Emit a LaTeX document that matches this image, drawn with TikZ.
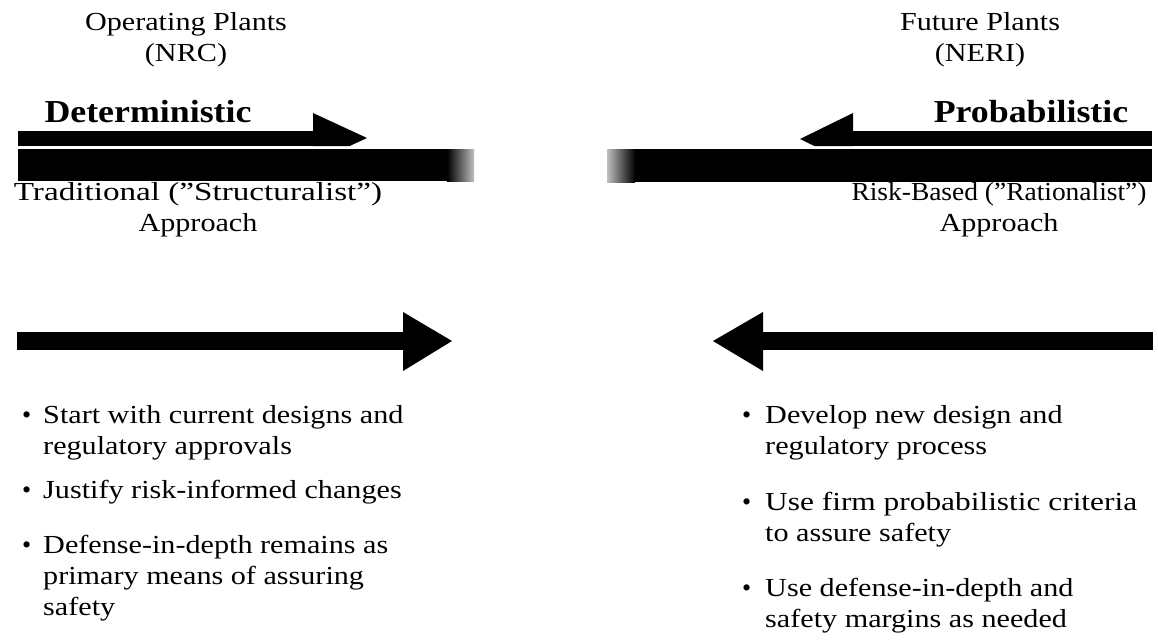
\documentclass[tikz,border=0pt]{standalone}
\usepackage{graphicx}
\usepackage{fontspec}
\setmainfont{Liberation Serif}
\newcommand\cstack[1]{\vtop{\halign{\hfil##\hfil\cr#1\crcr}}}
\newcommand\lstack[1]{\vtop{\halign{##\hfil\cr#1\crcr}}}
\begin{document}
\begin{tikzpicture}[x=1pt,y=-1pt,
  txt/.style={inner sep=0pt, font=\fontsize{26}{31}\selectfont, xscale=1.16},
  bld/.style={inner sep=0pt, font=\fontsize{32}{36}\selectfont\bfseries, xscale=1.12},
  bul/.style={inner sep=0pt, font=\fontsize{26}{31}\selectfont}]
\useasboundingbox[fill=white] (0,0) rectangle (1158,643);
% headings
\node[txt,anchor=base] (opl) at (186,30) {\cstack{Operating Plants\cr (NRC)}};
\node[txt,anchor=base] (fpl) at (980,30) {\cstack{Future Plants\cr (NERI)}};
\node[bld,anchor=base] (det) at (148,122) {Deterministic};
\node[bld,anchor=base] (prob) at (1031,122) {Probabilistic};
\node[txt,anchor=base] (trad) at (198,200) {\cstack{\scalebox{1.1}[1]{Traditional (”Structuralist”)}\cr Approach}};
\node[txt,anchor=base] (risk) at (999,200) {\cstack{\scalebox{0.91}[1]{Risk-Based (”Rationalist”)}\cr Approach}};
% top left arrow and bar
\fill (18,131) rectangle (313,146);
\fill (313,113) -- (367,138) -- (349.7,146) -- (313,146) -- cycle;
\fill (18,149) rectangle (447,181);
\shade[left color=black,right color=black!25] (447,149) rectangle (474,181);
% top right arrow and bar
\fill (853,131) rectangle (1152,146);
\fill (853,113) -- (800,139) -- (814.3,146) -- (853,146) -- cycle;
\fill (635,149) rectangle (1152,182);
\shade[left color=black!25,right color=black] (607,149) rectangle (635,182);
% lower arrows
\fill (17,332) rectangle (404,350);
\fill (403,312) -- (452,341) -- (403,371) -- cycle;
\fill (762,332) rectangle (1153,350);
\fill (763,312) -- (713,341) -- (763,371) -- cycle;
% left bullets
\node[bul,anchor=base west] (lb1) at (22,423) {•};
\node[txt,anchor=base west] (l1) at (43,423) {\lstack{Start with current designs and\cr regulatory approvals}};
\node[bul,anchor=base west] (lb2) at (22,498) {•};
\node[txt,anchor=base west] (l2) at (43,498) {Justify risk-informed changes};
\node[bul,anchor=base west] (lb3) at (22,553) {•};
\node[txt,anchor=base west] (l3) at (43,553) {\lstack{Defense-in-depth remains as\cr primary means of assuring\cr safety}};
% right bullets
\node[bul,anchor=base west] (rb1) at (742,423) {•};
\node[txt,anchor=base west] (r1) at (765,423) {\lstack{Develop new design and\cr regulatory process}};
\node[bul,anchor=base west] (rb2) at (742,510) {•};
\node[txt,anchor=base west] (r2) at (765,510) {\lstack{\scalebox{1.04}[1]{Use firm probabilistic criteria}\cr to assure safety}};
\node[bul,anchor=base west] (rb3) at (742,596) {•};
\node[txt,anchor=base west] (r3) at (765,596) {\lstack{Use defense-in-depth and\cr safety margins as needed}};
\end{tikzpicture}
\end{document}
